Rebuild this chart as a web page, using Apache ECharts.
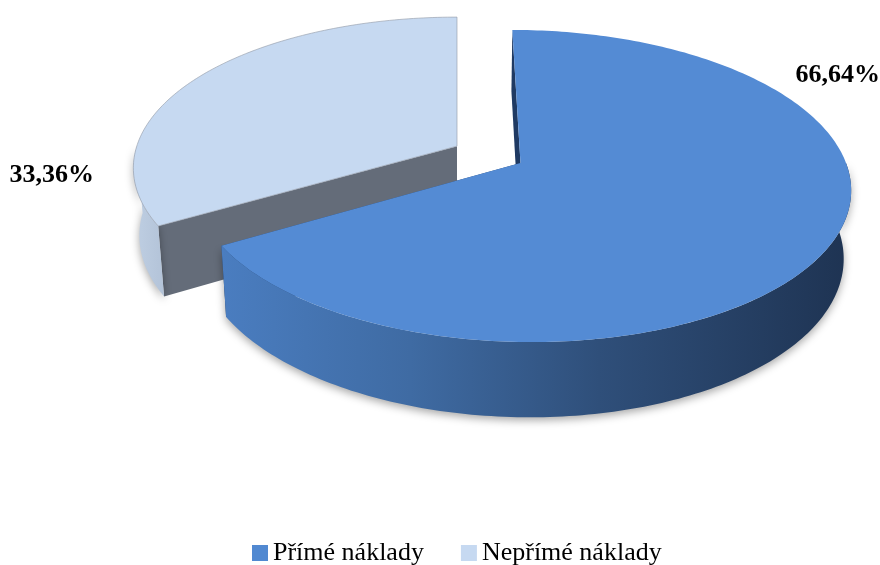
<!DOCTYPE html>
<html>
<head>
<meta charset="utf-8">
<script src="https://cdn.jsdelivr.net/npm/echarts@6/dist/echarts.min.js"></script>
<style>
html,body{margin:0;padding:0;background:#ffffff;}
#chart{width:880px;height:565px;}
</style>
</head>
<body>
<div id="chart"></div>
<script>
// ---- data ----
const categories = ['Přímé náklady', 'Nepřímé náklady'];
const values = [66.64, 33.36];
const labelTexts = values.map(v => v.toFixed(2).replace('.', ',') + '%');

// ---- view / style ----
const VIEW = { cx: 457, camX: -0.195, cy: 163, fx: 1950, fy: 1948, d: 5.99, tilt: 28 * Math.PI / 180, h: 0.24 };
const S = Math.sin(VIEW.tilt), C = Math.cos(VIEW.tilt);
function proj(X, Y, Z) {
  const yc = Y * S + Z * C;
  const zc = VIEW.d + Y * C - Z * S;
  return [VIEW.cx + VIEW.fx * (X - VIEW.camX) / zc, VIEW.cy - VIEW.fy * yc / zc];
}
const sliceStyle = [
  { top: '#548BD4', legend: '#5189D1', cutStart: '#1F3A63', cutEnd: '#2A4A75',
    wallStops: [[0, '#4A7DC0'], [0.3, '#3F6BA3'], [0.6, '#2F4F7A'], [1, '#1E3352']],
    explode: 0, z: 2, labelAngle: 60, labelR: 1.25, stroke: null },
  { top: '#C6D9F1', legend: '#C6D9F1', cutStart: '#646C79', cutEnd: '#B4C4D9',
    wallStops: [[0, '#BFCFE3'], [1, '#B3C3D8']],
    explode: 0.225, z: 1, labelAngle: 261, labelR: 1.245, stroke: 'rgba(150,158,170,0.8)' }
];

const total = values.reduce((a, b) => a + b, 0);
const angles = [];
(function () {
  let acc = 0;
  values.forEach(v => {
    const a0 = acc / total * 2 * Math.PI;
    acc += v;
    angles.push([a0, acc / total * 2 * Math.PI]);
  });
})();

function makeRender(i) {
  return function (params, api) {
    const st = sliceStyle[i];
    const a0 = angles[i][0], a1 = angles[i][1];
    const mid = (a0 + a1) / 2;
    const ox = st.explode * Math.sin(mid), oy = st.explode * Math.cos(mid);
    const rim = (t, z, r) => proj((r || 1) * Math.sin(t) + ox, (r || 1) * Math.cos(t) + oy, z);
    const apex = z => proj(ox, oy, z);
    const H = -VIEW.h;
    const arc = (b0, b1, z) => {
      const n = Math.max(2, Math.ceil((b1 - b0) / (2 * Math.PI) * 360));
      const pts = [];
      for (let k = 0; k <= n; k++) pts.push(rim(b0 + (b1 - b0) * k / n, z));
      return pts;
    };
    const children = [];
    // radial cut faces
    [[a0, st.cutStart], [a1, st.cutEnd]].forEach(function (f) {
      children.push({
        type: 'polygon',
        shape: { points: [apex(0), rim(f[0], 0), rim(f[0], H), apex(H)] },
        style: { fill: f[1] }
      });
    });
    // outer wall (front half only)
    const w0 = Math.max(a0, Math.PI / 2), w1 = Math.min(a1, 1.5 * Math.PI);
    if (w1 > w0) {
      const topPts = arc(w0, w1, 0), botPts = arc(w0, w1, H).reverse();
      const all = topPts.concat(botPts);
      const xs = all.map(p => p[0]);
      const minX = Math.min.apply(null, xs), maxX = Math.max.apply(null, xs);
      children.push({
        type: 'polygon',
        shape: { points: all },
        style: {
          fill: {
            type: 'linear', x: minX, y: 0, x2: maxX, y2: 0, global: true,
            colorStops: st.wallStops.map(s => ({ offset: s[0], color: s[1] }))
          },
          shadowBlur: 8, shadowColor: 'rgba(0,0,0,0.35)', shadowOffsetY: 3
        }
      });
    }
    // top face
    children.push({
      type: 'polygon',
      shape: { points: [apex(0)].concat(arc(a0, a1, 0)) },
      style: st.stroke ? { fill: st.top, stroke: st.stroke, lineWidth: 0.8 } : { fill: st.top }
    });
    // label
    const la = st.labelAngle * Math.PI / 180;
    const lp = rim(la, 0, st.labelR);
    children.push({
      type: 'text', x: lp[0], y: lp[1],
      style: {
        text: labelTexts[i], fill: '#000',
        font: 'bold 26px "Liberation Serif", "Times New Roman", serif',
        align: 'center', verticalAlign: 'middle'
      }
    });
    return { type: 'group', children: children };
  };
}

const chart = echarts.init(document.getElementById('chart'), null, { renderer: 'canvas' });
chart.setOption({
  backgroundColor: '#ffffff',
  animation: false,
  legend: {
    data: categories,
    left: 252, top: 540, padding: 0,
    icon: 'rect', itemWidth: 16, itemHeight: 16, itemGap: 37,
    textStyle: { fontFamily: '"Liberation Serif", "Times New Roman", serif', fontSize: 26, color: '#000' }
  },
  series: categories.map((name, i) => ({
    type: 'custom',
    name: name,
    coordinateSystem: 'none',
    z: sliceStyle[i].z,
    itemStyle: { color: sliceStyle[i].legend },
    data: [[values[i]]],
    renderItem: makeRender(i)
  }))
});
</script>
</body>
</html>
